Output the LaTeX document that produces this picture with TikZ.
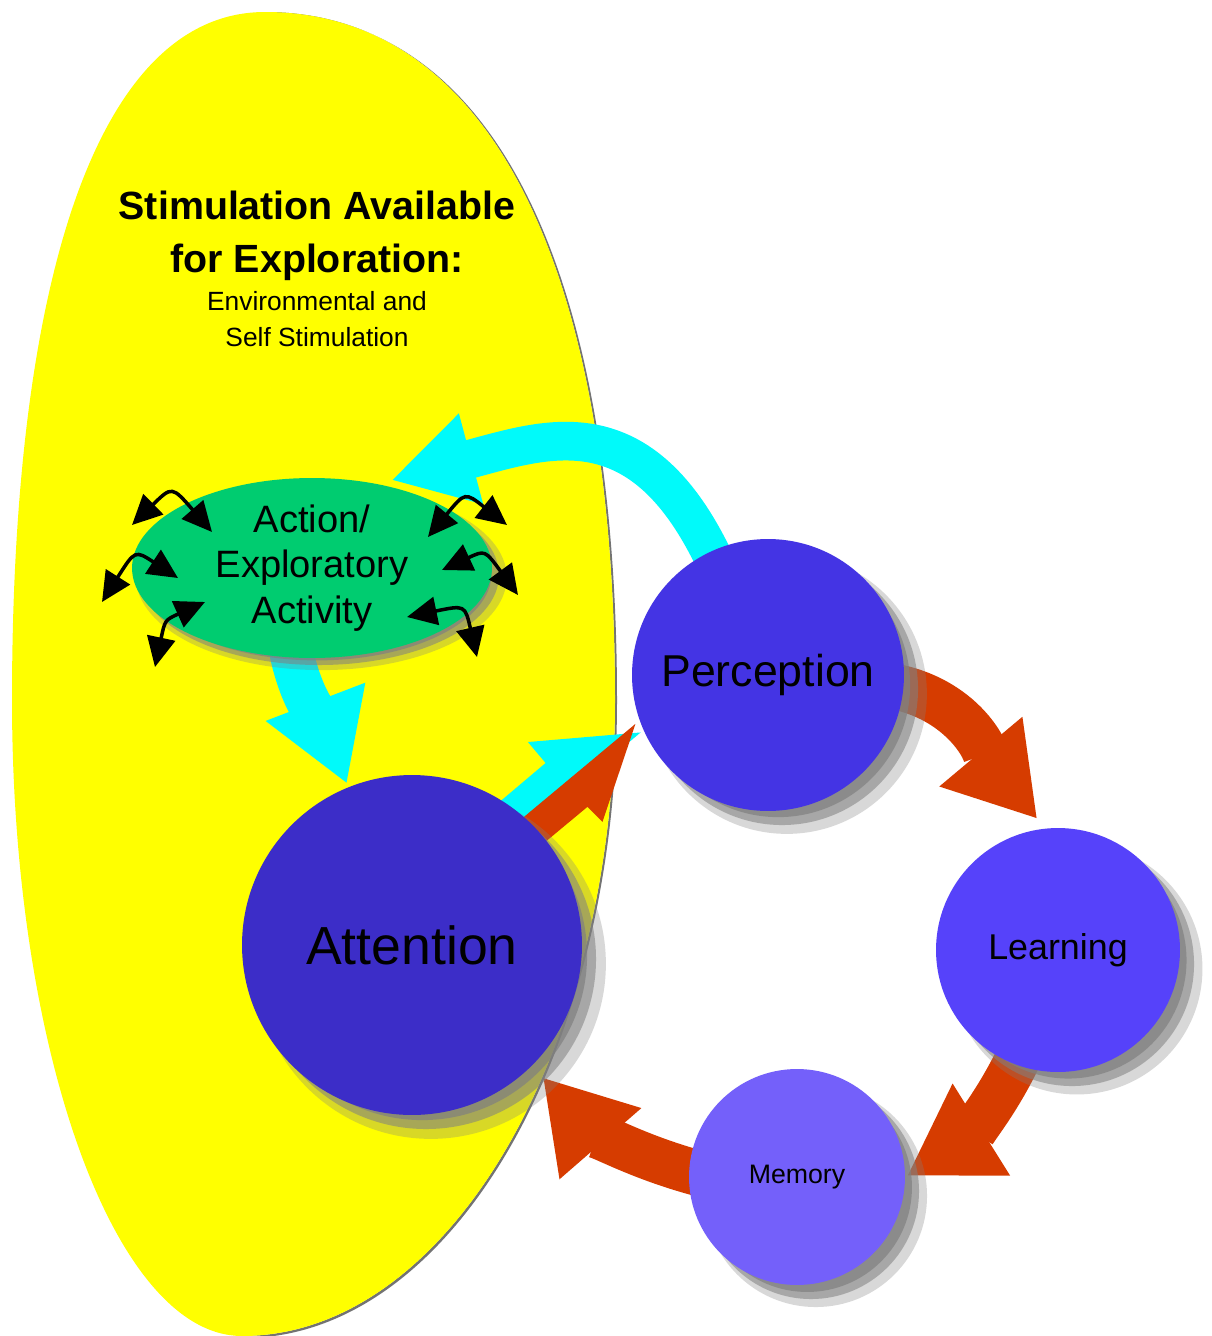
\documentclass[tikz,border=0pt]{standalone}
\usepackage{fontspec}
\setmainfont{Liberation Sans}
\usetikzlibrary{arrows.meta,positioning,calc,shapes.geometric,shadows}

\definecolor{zoneyellow}{RGB}{255,255,0}
\definecolor{flowcyan}{RGB}{0,250,250}
\definecolor{flowred}{RGB}{214,60,0}
\definecolor{attcol}{RGB}{60,45,200}
\definecolor{perccol}{RGB}{68,52,228}
\definecolor{learncol}{RGB}{86,66,250}
\definecolor{memcol}{RGB}{116,96,250}
\definecolor{actgreen}{RGB}{0,204,112}

\pgfdeclarelayer{back}
\pgfdeclarelayer{flow}
\pgfsetlayers{back,flow,main}

\tikzset{
  softshadow/.style={
    drop shadow={shadow xshift=#1*1.3, shadow yshift=-#1*1.3, shadow scale=1.03, opacity=.3},
    drop shadow={shadow xshift=#1, shadow yshift=-#1, opacity=.55},
    drop shadow={shadow xshift=#1*.75, shadow yshift=-#1*.75, shadow scale=.97, opacity=.7}},
  bubble/.style={circle, inner sep=0pt, text=black, softshadow=8pt},
  cyanflow/.style={draw=flowcyan, line width=#1},
  redflow/.style={draw=flowred, line width=26pt,
    -{Triangle[length=50pt,width=58pt]}},
  tinyarrow/.style={draw=black, line width=2pt,
    {Triangle[length=17pt,width=16pt]}-{Triangle[length=17pt,width=16pt]}}
}

\begin{document}
\begin{tikzpicture}[x=0.02cm,y=0.02cm]
  \useasboundingbox (0,0) rectangle (1212,-1336);

  % stimulation zone
  \begin{pgfonlayer}{back}
    \fill[white] (0,0) rectangle (1212,-1336);
    \fill[black!55] (267,-13) .. controls (495,-13) and (617,-273) .. (617,-701)
      .. controls (617,-1052) and (450,-1338) .. (244,-1338) -- (242,-1336)
      .. controls (448,-1336) and (615,-1051) .. (615,-700)
      .. controls (615,-273) and (493,-12) .. (265,-12) -- cycle;
    \fill[zoneyellow]
      (265,-12) .. controls (493,-12) and (615,-273) .. (615,-700)
      .. controls (615,-1051) and (448,-1336) .. (242,-1336)
      .. controls (115,-1336) and (12,-1051) .. (12,-700)
      .. controls (12,-273) and (100,-12) .. (265,-12) -- cycle;
  \end{pgfonlayer}

  \node[font=\bfseries\fontsize{22.4}{30}\selectfont, align=center, inner sep=0pt]
    (title) at (317,-236) {Stimulation Available\\for Exploration:};
  \node[font=\fontsize{15}{20.4}\selectfont, align=center, inner sep=0pt,
    below=5.6pt of title] (sub) {Environmental and\\Self Stimulation};

  % cycle
  \node[bubble, fill=attcol, minimum size=6.8cm,
    font=\fontsize{30.5}{36}\selectfont] (att) at (412,-945) {Attention};
  \node[bubble, fill=perccol, minimum size=5.44cm,
    font=\fontsize{25.4}{30}\selectfont] (perc) at (768,-675) {Perception};
  \node[bubble, fill=learncol, minimum size=4.88cm,
    font=\fontsize{20.4}{24}\selectfont] (learn) at (1058,-950) {Learning};
  \node[bubble, fill=memcol, minimum size=4.32cm,
    font=\fontsize{15.2}{18}\selectfont] (mem) at (797,-1177) {Memory};

  \node[ellipse, fill=actgreen, minimum width=7.2cm, minimum height=3.6cm,
    inner sep=0pt, align=center, font=\fontsize{21.7}{26}\selectfont,
    softshadow=4pt] (act) at (312,-568) {Action/\\Exploratory\\Activity};

  \coordinate (meet) at ([xshift=-3pt]perc.201);

  \begin{pgfonlayer}{flow}
    \draw[cyanflow=22pt, -{Triangle[length=47pt,width=50pt]}, shorten >=8pt]
      ($(perc.center)!0.9!(perc.115)$) to[out=115,in=15,looseness=1.3] (act.52);
    \draw[cyanflow=25pt, -{Triangle[length=50pt,width=57pt]}, shorten >=2pt]
      ([yshift=8pt]act.256) to[out=-80,in=111] (att.112);
    \draw[cyanflow=32pt, -{Triangle[left,length=45pt,width=60pt]}]
      ($(meet)+(-168,-142)$) -- (meet);

    % attention to perception, half head
    \fill[flowred] (meet) -- ++(-33,-98) -- ++(-15,15) -- ++(-77,-64)
      -- ++(-14,31) -- cycle;
    \draw[redflow, shorten >=7pt] ($(perc.center)!0.9!(perc.-5)$)
      to[out=-10,in=130] (learn.96);
    \draw[redflow, shorten >=1pt] ($(learn.center)!0.9!(learn.250)$)
      to[out=245,in=32] (mem.0);
    \draw[redflow, shorten >=9pt] ($(mem.center)!0.9!(mem.178)$)
      to[out=165,in=-49] (att.-45);
  \end{pgfonlayer}

  % exploratory moves
  \foreach \sx/\sy/\cx/\cy/\ex/\ey in {132/525/172/486/212/532,
      102/602/135/550/178/578, 155/667/165/620/205/602,
      428/537/465/492/507/525, 442/570/485/550/518/595,
      407/617/465/605/477/657}
    \draw[tinyarrow] (\sx,-\sy) .. controls (\cx,-\cy) .. (\ex,-\ey);
\end{tikzpicture}
\end{document}
